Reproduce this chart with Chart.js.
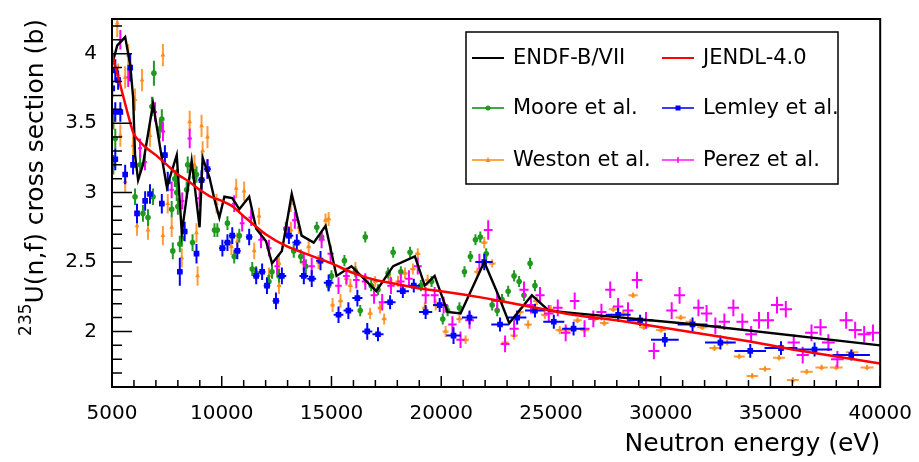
<!DOCTYPE html>
<html>
<head>
<meta charset="utf-8">
<script src="https://cdn.jsdelivr.net/npm/chart.js@4.4.1/dist/chart.umd.min.js"></script>
<style>
  html, body { margin: 0; padding: 0; background: #fff; }
  canvas { display: block; }
</style>
</head>
<body>
<canvas id="xsChart" width="919" height="462"></canvas>
<script>
// --- axis ticks ---
const xTicks = [5000, 10000, 15000, 20000, 25000, 30000, 35000, 40000];
const yTicks = [2, 2.5, 3, 3.5, 4];

// --- evaluated libraries (energy in eV, cross section in b) ---
const endfE = [5000, 5240, 5600, 5830, 5960, 6050, 6190, 6410, 6870, 7270, 7500, 7950, 8180, 8630, 8990, 9130, 9440, 9670, 9890, 10120, 10480, 10800, 11250, 11570, 12020, 12290, 12740, 13190, 13640, 14190, 14730, 15230, 15910, 17040, 17810, 18800, 19250, 19700, 20290, 20880, 21960, 22550, 23100, 24130, 24900, 26170, 31590, 40000];
const endfXS = [3.92, 4.06, 4.12, 3.92, 3.69, 3.27, 3.09, 3.20, 3.64, 3.25, 3.04, 3.27, 2.71, 3.23, 2.75, 3.25, 3.11, 2.95, 2.82, 2.97, 2.96, 2.88, 2.97, 2.74, 2.65, 2.49, 2.58, 2.99, 2.69, 2.64, 2.76, 2.40, 2.47, 2.29, 2.47, 2.54, 2.33, 2.40, 2.14, 2.13, 2.50, 2.28, 2.06, 2.26, 2.15, 2.13, 2.05, 1.90];

const jendlE = [5000, 5250, 5500, 5750, 6000, 6500, 7000, 7500, 8000, 8500, 9000, 9500, 10000, 10500, 11000, 12000, 13000, 14000, 15000, 16000, 17000, 18000, 19000, 20000, 22000, 24000, 26000, 28000, 30000, 32000, 34000, 36000, 38000, 40000];
const jendlXS = [4.00, 3.85, 3.70, 3.55, 3.42, 3.33, 3.27, 3.20, 3.13, 3.08, 3.02, 2.97, 2.94, 2.90, 2.83, 2.70, 2.61, 2.55, 2.49, 2.42, 2.37, 2.34, 2.31, 2.29, 2.24, 2.18, 2.12, 2.08, 2.03, 1.98, 1.93, 1.87, 1.82, 1.77];

// --- measurements: [E, xs, dE, dxs] ---
const moore = [
  [5060, 3.53, 0, 0.07], [5060, 3.20, 0, 0.07], [5150, 3.39, 0, 0.07], [6050, 2.97, 0, 0.06],
  [6280, 3.20, 0, 0.07], [6410, 2.85, 0, 0.06], [6640, 2.82, 0, 0.06], [6820, 3.62, 0, 0.07],
  [6870, 2.97, 0, 0.06], [6910, 3.86, 0, 0.09], [7180, 3.46, 0, 0.07], [7270, 3.53, 0, 0.07],
  [7720, 2.88, 0, 0.06], [7770, 2.58, 0, 0.06], [7860, 3.10, 0, 0.06], [7950, 3.11, 0, 0.06],
  [7950, 3.00, 0, 0.06], [8000, 2.90, 0, 0.06], [8090, 2.63, 0, 0.06], [8180, 2.67, 0, 0.06],
  [8400, 3.02, 0, 0.06], [8450, 3.20, 0, 0.06], [8670, 2.64, 0, 0.06], [8760, 3.11, 0, 0.06],
  [8850, 3.13, 0, 0.06], [9670, 2.73, 0, 0.05], [9800, 2.73, 0, 0.05], [10260, 2.78, 0, 0.05],
  [10570, 2.54, 0, 0.05], [10800, 2.69, 0, 0.05], [11390, 2.45, 0, 0.05], [11570, 2.42, 0, 0.05],
  [12150, 2.36, 0, 0.05], [12290, 2.43, 0, 0.05], [12610, 2.40, 0, 0.05], [12920, 2.74, 0, 0.05],
  [13280, 2.58, 0, 0.05], [13600, 2.54, 0, 0.05], [13830, 2.47, 0, 0.05], [14330, 2.75, 0, 0.04],
  [14550, 2.68, 0, 0.04], [14870, 2.33, 0, 0.04], [15000, 2.40, 0, 0.04], [15590, 2.51, 0, 0.04],
  [16090, 2.43, 0, 0.04], [16310, 2.15, 0, 0.04], [16540, 2.68, 0, 0.04], [16810, 2.33, 0, 0.04],
  [17120, 2.30, 0, 0.04], [17580, 2.42, 0, 0.04], [17810, 2.57, 0, 0.04], [18160, 2.43, 0, 0.04],
  [18580, 2.57, 0, 0.04], [19070, 2.33, 0, 0.04], [19560, 2.36, 0, 0.04], [20070, 2.09, 0, 0.04],
  [20290, 2.15, 0, 0.04], [20830, 2.17, 0, 0.04], [21060, 2.43, 0, 0.04], [21330, 2.54, 0, 0.04],
  [21560, 2.66, 0, 0.04], [21780, 2.68, 0, 0.04], [22050, 2.56, 0, 0.04], [22320, 2.19, 0, 0.04],
  [22550, 2.15, 0, 0.04], [22770, 2.23, 0, 0.04], [23050, 2.29, 0, 0.04], [23320, 2.40, 0, 0.04],
  [23550, 2.36, 0, 0.04], [23770, 2.26, 0, 0.04], [24050, 2.49, 0, 0.04], [24270, 2.33, 0, 0.04]
];

const lemley = [
  [5010, 3.75, 100, 0.07], [5150, 3.88, 100, 0.08], [5150, 3.58, 100, 0.07], [5150, 3.24, 100, 0.08],
  [5280, 3.81, 100, 0.07], [5380, 3.58, 100, 0.07], [5600, 3.13, 100, 0.07], [5830, 3.90, 100, 0.10],
  [5960, 3.20, 100, 0.07], [6140, 2.85, 100, 0.07], [6510, 2.94, 100, 0.07], [6730, 2.99, 100, 0.07],
  [7270, 2.92, 120, 0.07], [7410, 3.27, 120, 0.07], [7540, 3.08, 120, 0.07], [8090, 2.43, 120, 0.10],
  [8310, 2.72, 120, 0.07], [8850, 2.56, 120, 0.07], [9080, 3.09, 150, 0.07], [9350, 3.17, 150, 0.07],
  [10030, 2.60, 150, 0.06], [10260, 2.64, 150, 0.06], [10480, 2.69, 150, 0.06], [10710, 2.58, 150, 0.06],
  [11250, 2.68, 150, 0.06], [11570, 2.40, 150, 0.06], [11840, 2.43, 150, 0.06], [12060, 2.33, 150, 0.06],
  [12470, 2.22, 150, 0.06], [12740, 2.40, 200, 0.06], [13060, 2.69, 200, 0.06], [13420, 2.64, 200, 0.06],
  [13740, 2.40, 200, 0.06], [14100, 2.38, 200, 0.06], [14500, 2.51, 200, 0.07], [14870, 2.35, 220, 0.06],
  [15320, 2.12, 220, 0.06], [15770, 2.15, 220, 0.06], [16180, 2.24, 230, 0.06], [16630, 2.00, 230, 0.06],
  [17120, 1.98, 250, 0.05], [17670, 2.21, 250, 0.05], [18250, 2.29, 280, 0.05], [18750, 2.33, 280, 0.05],
  [19290, 2.14, 300, 0.05], [19930, 2.19, 300, 0.05], [20560, 1.97, 330, 0.06], [21290, 2.10, 350, 0.05],
  [21960, 2.50, 380, 0.06], [22680, 2.05, 400, 0.05], [23460, 2.10, 420, 0.05], [24270, 2.15, 450, 0.05],
  [25130, 2.07, 480, 0.05], [26030, 2.02, 520, 0.05], [28060, 2.12, 570, 0.05], [29060, 2.08, 600, 0.04],
  [30190, 1.94, 630, 0.05], [31450, 2.05, 680, 0.05], [32720, 1.92, 700, 0.05], [34080, 1.86, 720, 0.05],
  [35480, 1.88, 750, 0.05], [37010, 1.87, 800, 0.05], [38680, 1.83, 850, 0.04]
];

const weston = [
  [5060, 3.53, 40, 0.08], [5240, 4.22, 40, 0.10], [5280, 3.85, 40, 0.08], [5380, 3.41, 40, 0.08],
  [5600, 3.83, 40, 0.08], [5600, 3.08, 40, 0.08], [5740, 3.99, 40, 0.08], [5960, 3.34, 40, 0.08],
  [6050, 3.67, 40, 0.08], [6140, 2.76, 40, 0.07], [6370, 3.81, 40, 0.08], [6640, 2.73, 50, 0.07],
  [6730, 3.41, 50, 0.08], [7320, 3.99, 50, 0.08], [7320, 2.69, 50, 0.07], [7540, 2.92, 50, 0.07],
  [7720, 2.75, 50, 0.07], [8180, 2.53, 50, 0.07], [8540, 3.51, 60, 0.08], [8760, 3.20, 60, 0.07],
  [8850, 2.71, 60, 0.07], [8900, 2.40, 60, 0.07], [9080, 3.48, 60, 0.08], [9130, 3.30, 60, 0.07],
  [9350, 3.40, 60, 0.08], [9760, 2.92, 60, 0.07], [10440, 2.61, 70, 0.06], [10660, 3.03, 70, 0.07],
  [10710, 2.65, 70, 0.06], [11020, 3.01, 70, 0.07], [11480, 2.58, 70, 0.06], [11700, 2.83, 70, 0.06],
  [12150, 2.40, 80, 0.06], [12610, 2.33, 80, 0.06], [12610, 2.49, 80, 0.06], [13150, 2.92, 80, 0.06],
  [13150, 2.73, 80, 0.06], [13510, 2.75, 80, 0.05], [13740, 2.49, 80, 0.05], [13960, 2.61, 90, 0.05],
  [14410, 2.50, 90, 0.05], [14730, 2.80, 90, 0.05], [14870, 2.81, 90, 0.05], [15050, 2.19, 90, 0.05],
  [15410, 2.22, 100, 0.05], [15680, 2.38, 100, 0.05], [15860, 2.33, 100, 0.05], [16090, 2.45, 100, 0.05],
  [16540, 2.37, 100, 0.04], [16760, 2.13, 110, 0.04], [16990, 2.36, 110, 0.04], [17210, 2.17, 110, 0.04],
  [17400, 2.09, 110, 0.04], [17670, 2.37, 110, 0.04], [18030, 2.36, 120, 0.04], [18350, 2.42, 120, 0.04],
  [18710, 2.45, 120, 0.04], [18930, 2.56, 120, 0.04], [19250, 2.17, 130, 0.04], [19380, 2.37, 130, 0.04],
  [19750, 2.19, 130, 0.04], [20200, 2.00, 140, 0.04], [20830, 2.09, 140, 0.03], [21110, 1.94, 150, 0.03],
  [21650, 2.43, 150, 0.03], [21960, 2.64, 150, 0.04], [22320, 2.49, 160, 0.03], [22910, 1.92, 160, 0.03],
  [23320, 1.97, 170, 0.03], [23590, 2.14, 170, 0.03], [23960, 2.05, 170, 0.03], [24360, 2.22, 180, 0.03],
  [24720, 2.12, 180, 0.03], [24990, 2.16, 180, 0.03], [25400, 2.01, 190, 0.03], [25710, 2.01, 190, 0.02],
  [26210, 2.08, 190, 0.02], [26530, 2.01, 200, 0.02], [26980, 2.09, 200, 0.02], [27430, 2.06, 200, 0.02],
  [27840, 2.16, 210, 0.02], [28290, 2.13, 210, 0.02], [28740, 2.26, 210, 0.02], [29240, 2.03, 220, 0.02],
  [30010, 2.01, 220, 0.02], [30910, 2.10, 230, 0.02], [31360, 2.07, 230, 0.02], [31900, 2.03, 240, 0.02],
  [32450, 1.88, 240, 0.02], [33030, 1.92, 250, 0.02], [33580, 1.82, 250, 0.02], [34170, 1.68, 260, 0.02],
  [34750, 1.73, 260, 0.02], [35390, 1.81, 270, 0.02], [36020, 1.65, 270, 0.02], [36650, 1.71, 280, 0.02],
  [37330, 1.74, 280, 0.02], [38000, 1.74, 290, 0.02], [38720, 1.85, 290, 0.02], [39400, 1.74, 300, 0.02]
];

const perez = [
  [5010, 3.96, 80, 0.07], [5380, 4.10, 80, 0.07], [5740, 3.83, 80, 0.07], [6280, 3.32, 90, 0.07],
  [6500, 3.22, 90, 0.06], [6960, 3.58, 90, 0.07], [7320, 3.44, 100, 0.07], [7720, 3.02, 100, 0.06],
  [8200, 2.94, 100, 0.06], [8540, 3.39, 100, 0.07], [8990, 2.96, 110, 0.06], [9350, 3.17, 110, 0.07],
  [10570, 2.92, 110, 0.06], [10930, 2.78, 110, 0.06], [11340, 2.82, 120, 0.06], [11790, 2.66, 120, 0.06],
  [12150, 2.60, 120, 0.06], [12520, 2.47, 120, 0.06], [12970, 2.75, 130, 0.06], [13330, 2.80, 130, 0.06],
  [13740, 2.50, 130, 0.06], [14100, 2.47, 140, 0.06], [14550, 2.66, 140, 0.06], [14960, 2.56, 140, 0.06],
  [15320, 2.33, 150, 0.06], [15680, 2.40, 150, 0.06], [16130, 2.37, 150, 0.06], [16540, 2.36, 160, 0.06],
  [16940, 2.26, 160, 0.06], [17310, 2.21, 160, 0.06], [17710, 2.33, 170, 0.06], [18160, 2.36, 170, 0.06],
  [18530, 2.38, 170, 0.06], [18930, 2.47, 180, 0.06], [19290, 2.26, 180, 0.06], [19700, 2.26, 180, 0.06],
  [20110, 2.19, 190, 0.06], [20510, 2.05, 190, 0.06], [20880, 1.94, 190, 0.06], [21290, 2.08, 200, 0.06],
  [21740, 2.50, 200, 0.06], [22140, 2.73, 200, 0.07], [22550, 2.22, 200, 0.06], [22910, 1.91, 200, 0.06],
  [23320, 2.02, 210, 0.06], [23770, 2.30, 210, 0.06], [24090, 2.19, 210, 0.06], [24500, 2.26, 210, 0.06],
  [24900, 2.13, 220, 0.06], [25310, 2.17, 220, 0.06], [25670, 1.99, 220, 0.06], [26080, 2.22, 220, 0.06],
  [26530, 2.02, 230, 0.06], [26930, 2.09, 230, 0.06], [27300, 2.14, 230, 0.06], [27700, 2.30, 230, 0.06],
  [28060, 2.18, 240, 0.06], [28510, 2.15, 240, 0.06], [28920, 2.37, 240, 0.06], [29330, 2.08, 240, 0.06],
  [29690, 1.86, 250, 0.06], [30500, 2.15, 250, 0.06], [30860, 2.26, 250, 0.06], [31720, 2.17, 250, 0.06],
  [32090, 2.13, 260, 0.06], [32490, 2.04, 260, 0.06], [32900, 2.07, 260, 0.06], [33310, 2.17, 260, 0.06],
  [33720, 2.07, 270, 0.06], [34120, 1.98, 270, 0.06], [34480, 2.08, 270, 0.06], [34890, 2.08, 270, 0.06],
  [35300, 2.19, 280, 0.06], [35700, 2.16, 280, 0.06], [36060, 1.92, 280, 0.06], [36470, 1.83, 280, 0.06],
  [36870, 1.99, 290, 0.06], [37280, 2.03, 290, 0.06], [37640, 1.92, 290, 0.06], [38050, 1.80, 290, 0.06],
  [38450, 2.08, 300, 0.06], [38860, 2.01, 300, 0.06], [39270, 1.98, 300, 0.06], [39670, 1.99, 300, 0.06]
];

const FONT = "'DejaVu Sans', 'Liberation Sans', sans-serif";

// colours
const C_ENDF = '#000000';
const C_JENDL = '#ff0000';
const C_MOORE = '#1f9a1f';
const C_LEMLEY = '#0000ff';
const C_WESTON = '#ff8c1a';
const C_PEREZ = '#ff00ff';

function toXY(e, xs) {
  return e.map((v, i) => ({ x: v, y: xs[i] }));
}

function toPts(rows) {
  return rows.map(r => ({ x: r[0], y: r[1], dx: r[2], dy: r[3] }));
}

// error bars, drawn just under each dataset's markers
const errorBars = {
  id: 'errorBars',
  beforeDatasetDraw(chart, args) {
    const ds = chart.data.datasets[args.index];
    if (!ds.errColor) return;
    const { ctx, chartArea: a } = chart;
    const xs = chart.scales.x, ys = chart.scales.y;
    ctx.save();
    ctx.beginPath();
    ctx.rect(a.left, a.top, a.right - a.left, a.bottom - a.top);
    ctx.clip();
    ctx.strokeStyle = ds.errColor;
    ctx.lineWidth = 2;
    ctx.beginPath();
    ds.data.forEach(p => {
      const px = xs.getPixelForValue(p.x);
      const py = ys.getPixelForValue(p.y);
      if (p.dx > 0) {
        ctx.moveTo(xs.getPixelForValue(p.x - p.dx), py);
        ctx.lineTo(xs.getPixelForValue(p.x + p.dx), py);
      }
      if (p.dy > 0) {
        ctx.moveTo(px, ys.getPixelForValue(p.y - p.dy));
        ctx.lineTo(px, ys.getPixelForValue(p.y + p.dy));
      }
    });
    ctx.stroke();
    ctx.restore();
  }
};

// ROOT-like frame, inward ticks, axis titles and legend
const frameDecor = {
  id: 'frameDecor',
  afterDraw(chart) {
    const { ctx, chartArea: a } = chart;
    const xs = chart.scales.x, ys = chart.scales.y;
    ctx.save();
    ctx.strokeStyle = '#000';

    // ticks on the bottom axis
    ctx.lineWidth = 1.5;
    ctx.beginPath();
    for (let v = xs.min; v <= xs.max; v += 1000) {
      const px = xs.getPixelForValue(v);
      const len = xTicks.includes(v) ? 11 : 7;
      ctx.moveTo(px, a.bottom);
      ctx.lineTo(px, a.bottom - len);
    }
    // ticks on the left axis
    for (let k = 16; k <= 42; k++) {
      const v = k / 10;
      const py = ys.getPixelForValue(v);
      const len = (k % 5 === 0) ? 20 : 10;
      ctx.moveTo(a.left, py);
      ctx.lineTo(a.left + len, py);
    }
    ctx.stroke();

    ctx.lineWidth = 2;
    ctx.strokeRect(a.left, a.top, a.right - a.left, a.bottom - a.top);

    // x title
    ctx.fillStyle = '#000';
    ctx.font = '25px ' + FONT;
    ctx.textAlign = 'right';
    ctx.textBaseline = 'alphabetic';
    ctx.fillText('Neutron energy (eV)', a.right, 451);

    // y title with superscript
    ctx.save();
    ctx.translate(43, a.top);
    ctx.rotate(-Math.PI / 2);
    ctx.font = '25px ' + FONT;
    ctx.textAlign = 'right';
    const main = 'U(n,f) cross section (b)';
    ctx.fillText(main, 0, 0);
    const w = ctx.measureText(main).width;
    ctx.font = '17px ' + FONT;
    ctx.fillText('235', -w, -12);
    ctx.restore();

    // legend
    const L = { x: 466, y: 32, w: 372, h: 152 };
    ctx.fillStyle = '#fff';
    ctx.fillRect(L.x, L.y, L.w, L.h);
    ctx.lineWidth = 1.5;
    ctx.strokeRect(L.x, L.y, L.w, L.h);
    const cols = [472, 662];
    const rows = [58, 108, 160];
    ctx.font = '21px ' + FONT;
    ctx.textAlign = 'left';
    ctx.textBaseline = 'middle';
    chart.data.datasets.forEach((ds, i) => {
      const cx = cols[i % 2], cy = rows[Math.floor(i / 2)];
      ctx.strokeStyle = ds.legendLine || ds.borderColor;
      ctx.lineWidth = 2;
      ctx.beginPath();
      ctx.moveTo(cx, cy);
      ctx.lineTo(cx + 32, cy);
      ctx.stroke();
      const mx = cx + 16;
      ctx.fillStyle = ds.pointBackgroundColor || ds.borderColor;
      if (ds.pointStyle === 'circle') {
        ctx.beginPath(); ctx.arc(mx, cy, 2.5, 0, Math.PI * 2); ctx.fill();
      } else if (ds.pointStyle === 'rect') {
        ctx.fillRect(mx - 2.5, cy - 2.5, 5, 5);
      } else if (ds.pointStyle === 'triangle') {
        ctx.beginPath(); ctx.moveTo(mx, cy - 3); ctx.lineTo(mx + 2.5, cy + 2); ctx.lineTo(mx - 2.5, cy + 2); ctx.closePath(); ctx.fill();
      } else if (ds.pointStyle === 'cross') {
        ctx.lineWidth = 1.5; ctx.strokeStyle = ds.errColor;
        ctx.beginPath(); ctx.moveTo(mx, cy - 3); ctx.lineTo(mx, cy + 3); ctx.stroke();
      }
      ctx.fillStyle = '#000';
      ctx.fillText(ds.label, cx + 41, cy + 1);
    });
    ctx.restore();
  }
};

const ctx = document.getElementById('xsChart').getContext('2d');
const xsChart = new Chart(ctx, {
  type: 'scatter',
  data: {
    datasets: [
      {
        label: 'ENDF-B/VII',
        data: toXY(endfE, endfXS),
        showLine: true,
        borderColor: C_ENDF,
        borderWidth: 2.4,
        pointRadius: 0,
        tension: 0,
        order: 1
      },
      {
        label: 'JENDL-4.0',
        data: toXY(jendlE, jendlXS),
        showLine: true,
        borderColor: C_JENDL,
        borderWidth: 2.5,
        pointRadius: 0,
        tension: 0.2,
        order: 0
      },
      {
        label: 'Moore et al.',
        data: toPts(moore),
        pointStyle: 'circle',
        pointRadius: 2.8,
        borderColor: C_MOORE,
        pointBackgroundColor: C_MOORE,
        pointBorderWidth: 0,
        errColor: C_MOORE,
        legendLine: '#3caa3c',
        order: 4
      },
      {
        label: 'Lemley et al.',
        data: toPts(lemley),
        pointStyle: 'rect',
        pointRadius: 4,
        borderColor: C_LEMLEY,
        pointBackgroundColor: C_LEMLEY,
        pointBorderWidth: 0,
        errColor: C_LEMLEY,
        legendLine: '#3a3aff',
        order: 2
      },
      {
        label: 'Weston et al.',
        data: toPts(weston),
        pointStyle: 'triangle',
        pointRadius: 2.8,
        borderColor: C_WESTON,
        pointBackgroundColor: C_WESTON,
        pointBorderWidth: 0,
        errColor: 'rgba(255,140,26,0.85)',
        legendLine: '#ffa650',
        order: 5
      },
      {
        label: 'Perez et al.',
        data: toPts(perez),
        pointStyle: 'cross',
        pointRadius: 0,
        borderColor: C_PEREZ,
        pointBackgroundColor: C_PEREZ,
        errColor: C_PEREZ,
        legendLine: '#ff50ff',
        order: 3
      }
    ]
  },
  options: {
    responsive: false,
    animation: false,
    devicePixelRatio: 1,
    layout: { padding: { top: 6, right: 33, left: 0, bottom: 0 } },
    plugins: {
      legend: { display: false },
      tooltip: { enabled: false }
    },
    scales: {
      x: {
        type: 'linear',
        min: 5000,
        max: 40000,
        grid: { display: false },
        border: { display: false },
        afterBuildTicks: s => { s.ticks = xTicks.map(v => ({ value: v })); },
        afterFit: s => { s.height = 75; },
        ticks: {
          font: { family: FONT, size: 20 },
          color: '#000',
          padding: 7,
          maxRotation: 0,
          autoSkip: false,
          callback: v => String(v)
        }
      },
      y: {
        type: 'linear',
        min: 1.6,
        max: 4.25,
        grid: { display: false },
        border: { display: false },
        afterBuildTicks: s => { s.ticks = yTicks.map(v => ({ value: v })); },
        afterFit: s => { s.width = 112; },
        ticks: {
          font: { family: FONT, size: 20 },
          color: '#000',
          padding: 7,
          callback: v => String(v)
        }
      }
    }
  },
  plugins: [errorBars, frameDecor]
});
</script>
</body>
</html>
